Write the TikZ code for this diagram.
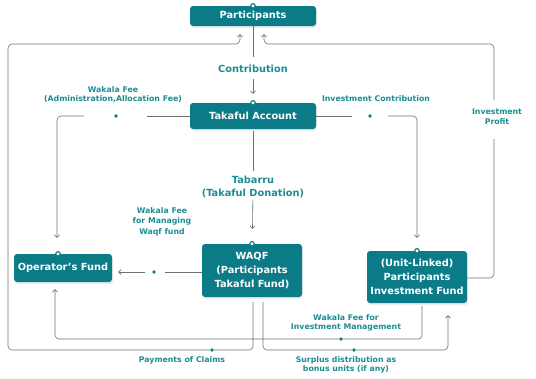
\documentclass[tikz,border=0pt]{standalone}
\usepackage{fontspec}
\setmainfont{DejaVu Sans}
\usetikzlibrary{arrows.meta,shadows}
\definecolor{boxteal}{HTML}{0B7B87}
\definecolor{lblteal}{HTML}{1B8D92}
\definecolor{linegray}{HTML}{707070}
\begin{document}
\begin{tikzpicture}[x=1pt,y=-1pt,
    box/.style={fill=boxteal,text=white,rounded corners=3pt,align=center,inner sep=1pt,
        font=\fontsize{9.8}{14}\selectfont\bfseries,
        drop shadow={opacity=0.15,shadow xshift=1pt,shadow yshift=-2pt}},
    lbl/.style={text=lblteal,align=center,inner sep=1pt,font=\fontsize{7.8}{9.5}\selectfont\bfseries},
    biglbl/.style={lbl,font=\fontsize{9.8}{13}\selectfont\bfseries},
    dot/.style={circle,fill=boxteal,inner sep=0pt,minimum size=3.6pt},
    ring/.style={draw=boxteal,fill=white,line width=1.1pt},
    line/.style={draw=linegray,line width=0.6pt},
    arr/.style={line,-{Straight Barb[length=2.5pt,width=5pt]}}]
    \useasboundingbox (0,0) rectangle (536,378);
    % boxes
    \node[box,minimum width=126pt,minimum height=20pt] (participants) at (253,16) {Participants};
    \node[box,minimum width=126pt,minimum height=26pt] (takaful) at (253,116) {Takaful Account};
    \node[box,minimum width=98pt,minimum height=28pt] (operator) at (63,268) {Operator’s Fund};
    \node[box,minimum width=100pt,minimum height=53pt] (waqf) at (252,270.5) {WAQF\\(Participants\\Takaful Fund)};
    \node[box,minimum width=100pt,minimum height=52pt] (pif) at (417,277) {(Unit-Linked)\\Participants\\Investment Fund};
    \draw[ring] (participants.north) circle (2.2pt);
    \draw[ring] (takaful.north) circle (2.2pt);
    \draw[ring] ([xshift=-5pt]operator.north) circle (2.2pt);
    \draw[ring] (waqf.north) circle (2.2pt);
    \draw[ring] (pif.north) circle (2.2pt);
    % labels
    \node[biglbl] (contrib) at (253,69) {Contribution};
    \node[biglbl] (tabarru) at (253,186.5) {Tabarru\\(Takaful Donation)};
    \node[lbl,font=\fontsize{7.8}{8.8}\selectfont\bfseries] (adminFee) at (113,94.5) {Wakala Fee\\(Administration,Allocation Fee)};
    \node[lbl] (invContrib) at (376,99) {Investment Contribution};
    \node[lbl,font=\fontsize{7.8}{10.5}\selectfont\bfseries] (waqfFee) at (162,221.5) {Wakala Fee\\for Managing\\Waqf fund};
    \node[lbl] (profit) at (497,116.5) {Investment\\Profit};
    \node[lbl] (invFee) at (346,323) {Wakala Fee for\\Investment Management};
    \node[lbl] (claims) at (182,360) {Payments of Claims};
    \node[lbl] (surplus) at (346,365) {Surplus distribution as\\bonus units (if any)};
    % dots
    \node[dot] (adminDot) at (116,116) {};
    \node[dot] (invDot) at (370,116) {};
    \node[dot] (waqfDot) at (154,272) {};
    \node[dot] (claimDot) at (212,350) {};
    \node[dot] (invFeeDot) at (341,339) {};
    \node[dot] (surplusDot) at (354,350) {};
    % flows
    \draw[line,shorten >=7pt] (participants) -- (contrib);
    \draw[arr,shorten <=5pt,shorten >=9pt] (contrib) -- (takaful);
    \draw[line,shorten <=2pt,shorten >=3pt] (takaful) -- (tabarru);
    \draw[arr,shorten <=1pt,shorten >=15pt] (tabarru) -- (waqf);
    \draw[line,shorten >=29pt] (takaful.west) -- (adminDot);
    \draw[arr,rounded corners=4pt,shorten <=30pt,shorten >=16pt] (adminDot) -| ([xshift=-6pt]operator.north);
    \draw[line,shorten >=16pt] (takaful.east) -- (invDot);
    \draw[arr,rounded corners=4pt,shorten <=16pt,shorten >=13pt] (invDot) -| (pif.north);
    \draw[line,shorten >=9pt] (waqf.west |- waqfDot) -- (waqfDot);
    \draw[arr,shorten <=7pt,shorten >=6pt] (waqfDot) -- (waqfDot -| operator.east);
    \draw[line,rounded corners=4pt,shorten <=5pt] ([xshift=1pt]waqf.south) |- (claimDot);
    \draw[arr,rounded corners=4pt,shorten >=8pt] (claimDot) -- (8,350) -- (8,44) -- (240,44) -- ([xshift=-13pt]participants.south);
    \draw[line,rounded corners=4pt,shorten <=5pt] ([xshift=11pt]waqf.south) |- (surplusDot);
    \draw[arr,rounded corners=4pt,shorten >=12pt] (surplusDot) -| ([xshift=31pt]pif.south);
    \draw[line,rounded corners=4pt,shorten <=3pt] ([xshift=5pt]pif.south) |- (invFeeDot);
    \draw[arr,rounded corners=4pt,shorten >=7pt] (invFeeDot) -| ([xshift=-8pt]operator.south);
    \draw[line,rounded corners=4pt,shorten >=12pt] (pif.east |- 0,278) -| (494,127);
    \draw[arr,rounded corners=4pt,shorten <=5pt,shorten >=8pt] (494,105) -- (494,44) -- (264,44) -- ([xshift=11pt]participants.south);
\end{tikzpicture}
\end{document}
